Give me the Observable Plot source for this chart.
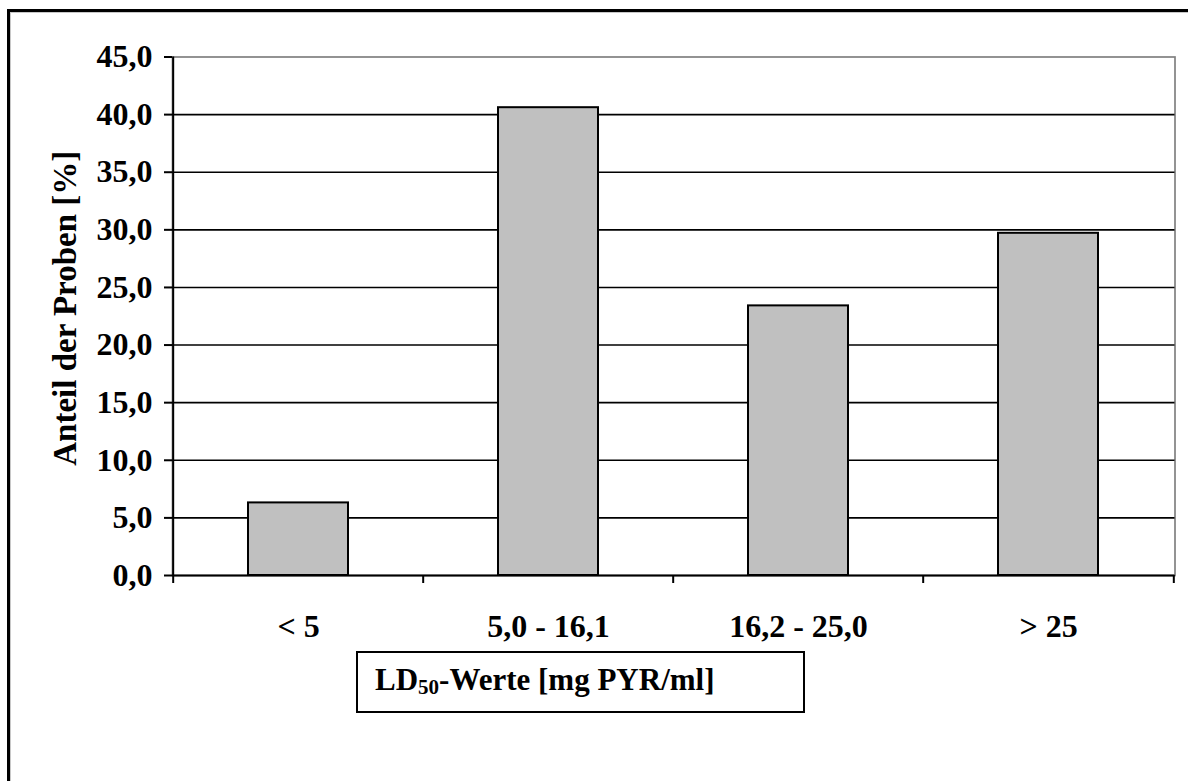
<!DOCTYPE html>
<html>
<head>
<meta charset="utf-8">
<script src="https://cdn.jsdelivr.net/npm/d3@7"></script>
<script src="https://cdn.jsdelivr.net/npm/@observablehq/plot@0.6"></script>
<style>
  html, body { margin: 0; padding: 0; background: #fff; overflow: hidden; }
  #wrap { position: relative; width: 1188px; height: 781px; overflow: hidden; }
  #chart { position: absolute; left: 0; top: 0; }
  #border { position: absolute; left: 7px; top: 9px; width: 1400px; height: 1000px;
            border: 3px solid #000; box-shadow: inset 1px 1px 0 #c8c8c8; pointer-events: none; }
  #xtitle { position: absolute; left: 356px; top: 651px; width: 449px; height: 62px;
            box-sizing: border-box; border: 2px solid #000; background: #fff;
            font: bold 31px "Liberation Serif", "Times New Roman", serif; color: #000;
            padding-left: 17px; line-height: 54px; white-space: nowrap; }
  #xtitle sub { font-size: 21px; vertical-align: -4px; line-height: 0; }
</style>
</head>
<body>
<div id="wrap">
  <div id="chart"></div>
  <div id="border"></div>
  <div id="xtitle">LD<sub>50</sub>-Werte [mg PYR/ml]</div>
</div>
<script>
const categories = ["< 5", "5,0 - 16,1", "16,2 - 25,0", "> 25"];
const values = [6.3, 40.6, 23.4, 29.7];
const yTicks = [0, 5, 10, 15, 20, 25, 30, 35, 40, 45];
const yTitle = "Anteil der Proben [%]";

const data = categories.map((c, i) => ({category: c, value: values[i]}));

const W = 1188, H = 781;
const mL = 172, mR = 13.5, mT = 56.5, mB = H - 575;
const step = (W - mL - mR) / categories.length;
const font = '"Liberation Serif", "Times New Roman", serif';
const fmt = d => d.toFixed(1).replace(".", ",");

const chart = Plot.plot({
  width: W,
  height: H,
  marginLeft: mL,
  marginRight: mR,
  marginTop: mT,
  marginBottom: mB,
  style: {background: "transparent", fontFamily: font, fontWeight: "bold", fontSize: "32px", color: "#000"},
  x: {domain: categories, paddingInner: 0.6, paddingOuter: 0.3},
  y: {domain: [0, 45]},
  marks: [
    Plot.frame({stroke: "#808080", strokeWidth: 1.7}),
    Plot.ruleY(yTicks.filter(d => d > 0 && d < 45), {stroke: "#000", strokeWidth: 1.6}),
    Plot.barY(data, {x: "category", y: "value", fill: "#c0c0c0", stroke: "#000", strokeWidth: 2}),
    Plot.ruleY([0], {stroke: "#000", strokeWidth: 2}),
    // left axis line
    Plot.ruleX([categories[0]], {x: d => d, y1: () => 0, y2: () => 45, dx: -step / 2, stroke: "#000", strokeWidth: 2}),
    // category boundary ticks
    Plot.ruleX(categories, {x: d => d, y1: () => 0, y2: () => 0, insetTop: 8, dx: -step / 2, stroke: "#000", strokeWidth: 2}),
    Plot.ruleX([categories[categories.length - 1]], {x: d => d, y1: () => 0, y2: () => 0, insetTop: 8, dx: step / 2, stroke: "#000", strokeWidth: 2}),
    Plot.axisY(yTicks, {tickSize: 8, tickPadding: 12, tickFormat: fmt, strokeWidth: 2, fontSize: 32, fontWeight: "bold", label: null}),
    Plot.axisX({tickSize: 0, tickPadding: 39, fontSize: 32, fontWeight: "bold", label: null}),
    Plot.text([yTitle], {frameAnchor: "left", textAnchor: "middle", rotate: -90, dx: -107, dy: -8, fontSize: 33, fontWeight: "bold", fill: "#000"})
  ]
});
document.getElementById("chart").appendChild(chart);
</script>
</body>
</html>
